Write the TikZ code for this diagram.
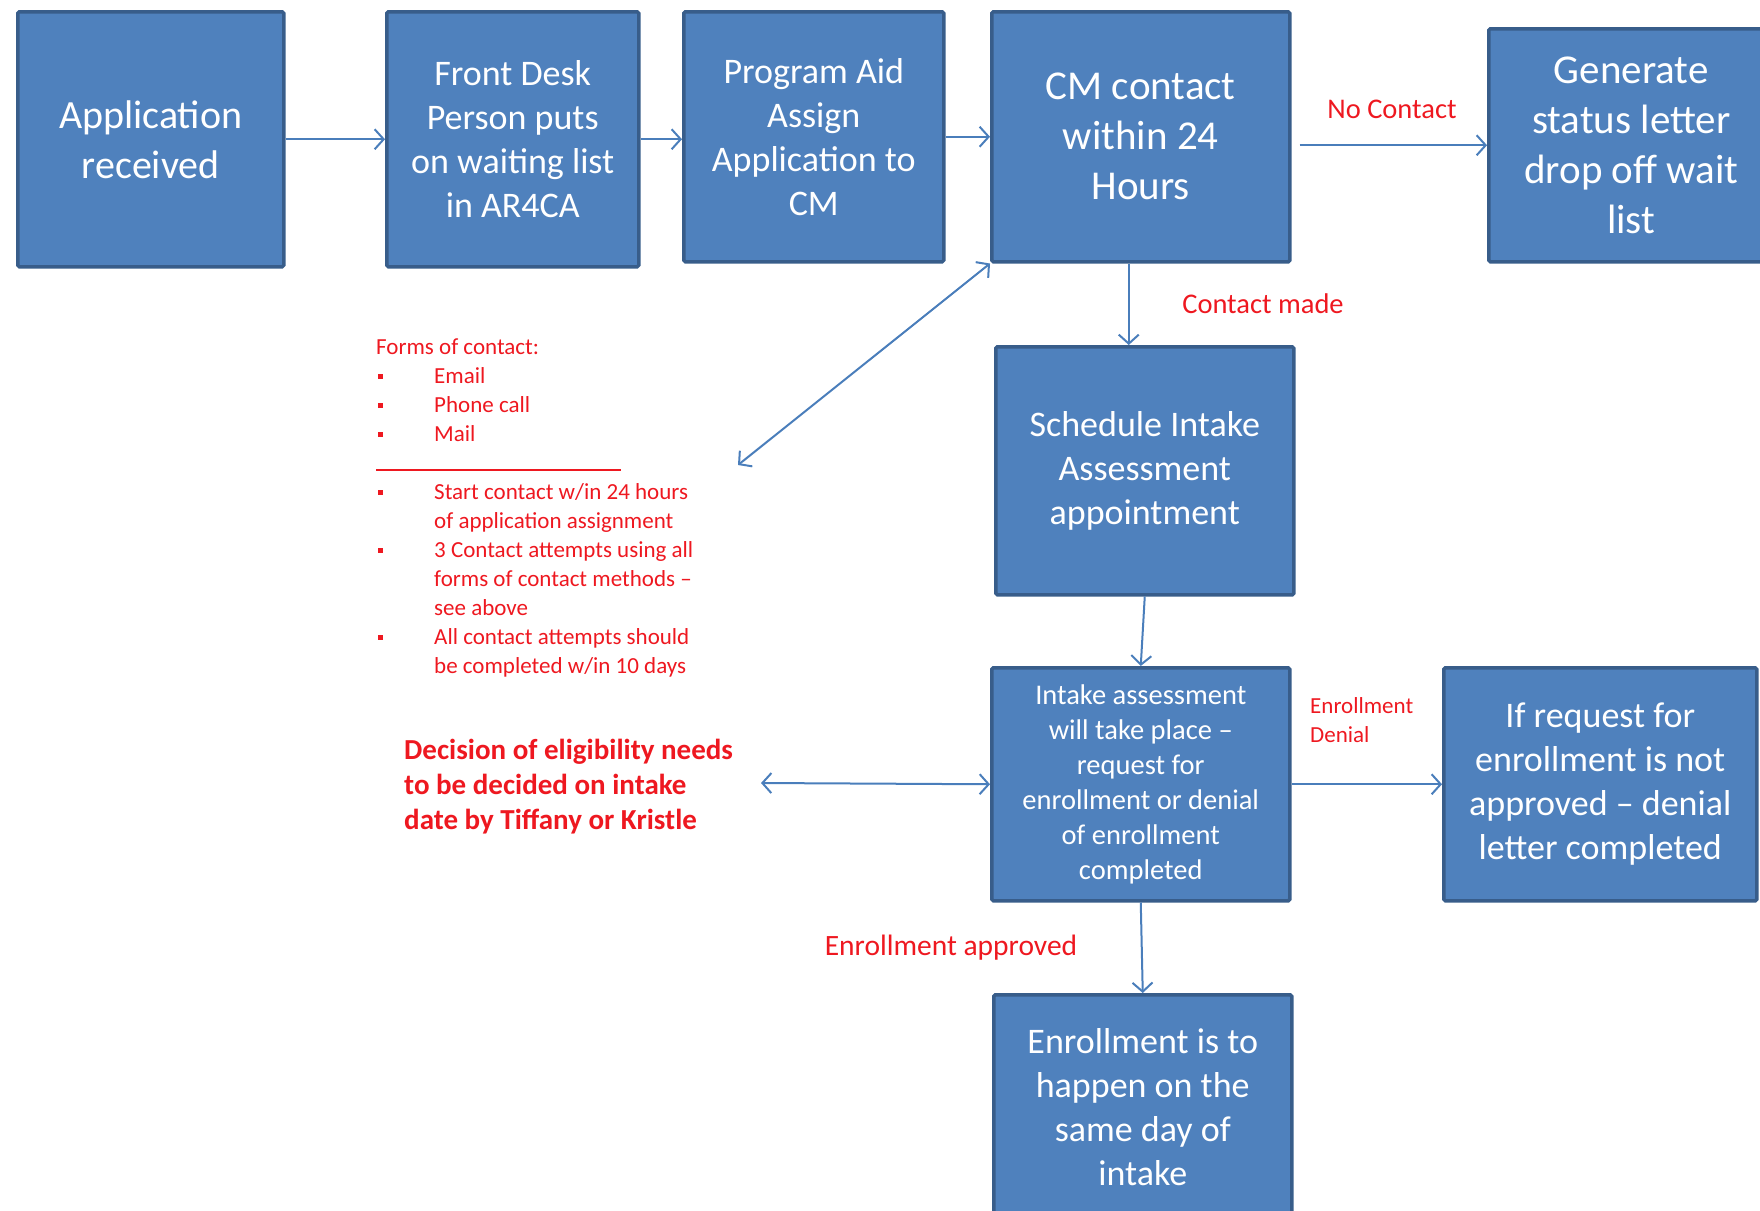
\documentclass[tikz,border=0pt]{standalone}
\usepackage{fontspec}
\setmainfont{Carlito}
\usetikzlibrary{arrows.meta,calc}

\definecolor{boxfill}{RGB}{79,129,189}
\definecolor{boxline}{RGB}{56,93,138}
\definecolor{linkblue}{RGB}{74,126,187}
\definecolor{notered}{RGB}{238,24,32}

\newcommand\pxfont[2]{\fontsize{#1}{#2}\selectfont}
% bullet column and hanging indent for the contact notes
\newcommand\bul{\makebox[58pt][l]{\hspace{2pt}\raisebox{5pt}{\rule{5pt}{5pt}}}}
\newcommand\ind{\hspace*{58pt}}

\begin{document}
\begin{tikzpicture}[x=1pt,y=-1pt,
  stepbox/.style={draw=boxline, fill=boxfill, line width=3.5pt, text=white,
    align=center, anchor=north west, inner sep=0pt, rounded corners=1.5pt},
  link/.style={draw=linkblue, line width=2pt,
    -{Straight Barb[length=9pt,width=20pt]}},
  bothlink/.style={draw=linkblue, line width=2pt,
    {Straight Barb[length=9pt,width=20pt]}-{Straight Barb[length=9pt,width=20pt]}},
  note/.style={text=notered, inner sep=0pt},
]
\useasboundingbox (0,0) rectangle (1760,1210);
\clip (0,0) rectangle (1760,1210);

% process steps (position = centre of the border line, top-left corner)
\node[stepbox, minimum width=266pt, minimum height=255pt, font=\pxfont{40}{50}]
  (app) at (16,10) {Application\\received};
\node[stepbox, minimum width=252pt, minimum height=255pt, font=\pxfont{36}{44}]
  (desk) at (385,10) {Front Desk\\Person puts\\on waiting list\\in AR4CA};
\node[stepbox, minimum width=260pt, minimum height=250pt, font=\pxfont{36}{44}]
  (aid) at (682,10) {Program Aid\\Assign\\Application to\\CM};
\node[stepbox, minimum width=298pt, minimum height=250pt, font=\pxfont{41}{50}]
  (cm) at (990,10) {CM contact\\within 24\\Hours};
\node[stepbox, minimum width=285pt, minimum height=233pt, font=\pxfont{41}{50}]
  (status) at (1487,27) {Generate\\status letter\\drop off wait\\list};
\node[stepbox, minimum width=298pt, minimum height=248pt, font=\pxfont{36}{44}]
  (sched) at (994,345) {Schedule Intake\\Assessment\\appointment};
\node[stepbox, minimum width=298pt, minimum height=233pt, font=\pxfont{28.5}{35}]
  (intake) at (990,666) {Intake assessment\\will take place –\\request for\\enrollment or denial\\of enrollment\\completed};
\node[stepbox, minimum width=313pt, minimum height=233pt, font=\pxfont{36}{44}]
  (denial) at (1442,666) {If request for\\enrollment is not\\approved – denial\\letter completed};
\node[stepbox, minimum width=298pt, minimum height=224pt, font=\pxfont{36}{44}]
  (enroll) at (992,993) {Enrollment is to\\happen on the\\same day of\\intake};

% side notes
\node[note, font=\pxfont{23}{29}, align=left, anchor=north west] (forms) at (376,339)
  {Forms of contact:\\
   \bul Email\\
   \bul Phone call\\
   \bul Mail\\
   \rule{245pt}{2pt}\\
   \bul Start contact w/in 24 hours\\
   \ind of application assignment\\
   \bul 3 Contact attempts using all\\
   \ind forms of contact methods –\\
   \ind see above\\
   \bul All contact attempts should\\
   \ind be completed w/in 10 days};
\node[note, font=\bfseries\pxfont{29}{35}, align=left, anchor=north west] (decision) at (404,739)
  {Decision of eligibility needs\\to be decided on intake\\date by Tiffany or Kristle};

\coordinate (formsend) at (738,465);
\coordinate (decisionend) at (761,783);

% connectors
\draw[link] (app.east) -- (desk.west);
\draw[link] (desk.east) -- (desk.east -| aid.west);
\draw[link] (aid.east) -- (aid.east -| cm.west);
\draw[link] ($(cm.east |- status.west)+(8,0)$) -- (status.west);
\draw[link] ($(cm.south)+(-12,0)$) -- ($(sched.north)+(-16,0)$);
\draw[bothlink] (formsend) -- (cm.south west);
\draw[link] (sched.south) -- (intake.north);
\draw[bothlink] (decisionend) -- (intake.west);
\draw[link] (intake.east) -- (denial.west);
\draw[link] (intake.south) -- (enroll.north);

% connector labels
\node[note, font=\pxfont{28.5}{34}] (nocontact) at (1392,109) {No Contact};
\node[note, font=\pxfont{28.5}{34}] (contactmade) at (1263,304) {Contact made};
\node[note, font=\pxfont{23}{29}, align=left, anchor=west] (denlabel) at (1310,720) {Enrollment\\Denial};
\node[note, font=\pxfont{29.5}{35}] (approved) at (951,948) {Enrollment approved};
\end{tikzpicture}
\end{document}
